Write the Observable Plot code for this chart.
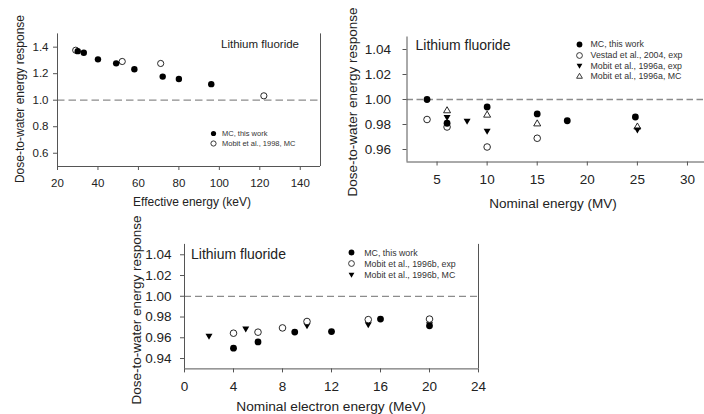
<!DOCTYPE html>
<html>
<head>
<meta charset="utf-8">
<script src="https://cdn.jsdelivr.net/npm/d3@7"></script>
<script src="https://cdn.jsdelivr.net/npm/@observablehq/plot@0.6"></script>
<style>
  html, body { margin: 0; padding: 0; background: #fff; }
  #root { position: relative; width: 704px; height: 414px; overflow: hidden; background: #fff;
          font-family: "Liberation Sans", Arial, sans-serif; color: #222; }
  .box { position: absolute; }
  .box svg { max-width: none !important; overflow: visible; background: transparent; }
  .lbl { position: absolute; white-space: nowrap; line-height: 1; }
  .leg { position: absolute; white-space: nowrap; line-height: 1; color: #333; display: flex; align-items: center; }
</style>
</head>
<body>
<div id="root"></div>
<script>
// ---------- Panel 1: photons (effective energy, keV) ----------
const p1McX = [30, 33, 40, 49, 58, 72, 80, 96];
const p1McY = [1.370, 1.358, 1.308, 1.278, 1.233, 1.178, 1.160, 1.121];
const p1MobitX = [29, 52, 71, 122];
const p1MobitY = [1.377, 1.292, 1.277, 1.033];
const p1XTicks = [20, 40, 60, 80, 100, 120, 140];
const p1YTicks = [0.6, 0.8, 1.0, 1.2, 1.4];
const p1XDomain = [20, 150];
const p1YDomain = [0.5, 1.5];

// ---------- Panel 2: photon beams (nominal energy, MV) ----------
const p2McX = [4, 6, 10, 15, 18, 24.8];
const p2McY = [1.000, 0.981, 0.994, 0.9885, 0.983, 0.986];
const p2VestadX = [4, 6, 10, 15];
const p2VestadY = [0.984, 0.978, 0.962, 0.969];
const p2MobitExpX = [6, 8, 10, 25];
const p2MobitExpY = [0.986, 0.983, 0.975, 0.976];
const p2MobitMcX = [6, 10, 15, 25];
const p2MobitMcY = [0.991, 0.9875, 0.9805, 0.978];
const p2XTicks = [5, 10, 15, 20, 25, 30];
const p2YTicks = [0.96, 0.98, 1.00, 1.02, 1.04];
const p2XDomain = [2, 32];
const p2YDomain = [0.95, 1.05];

// ---------- Panel 3: electron beams (MeV) ----------
const p3McX = [4, 6, 9, 12, 16, 20];
const p3McY = [0.950, 0.956, 0.9655, 0.966, 0.978, 0.9715];
const p3MobitExpX = [4, 6, 8, 10, 15, 20];
const p3MobitExpY = [0.9644, 0.9654, 0.9695, 0.9757, 0.9775, 0.978];
const p3MobitMcX = [2, 5, 10, 15, 20];
const p3MobitMcY = [0.962, 0.969, 0.972, 0.973, 0.973];
const p3XTicks = [0, 4, 8, 12, 16, 20, 24];
const p3YTicks = [0.94, 0.96, 0.98, 1.00, 1.02, 1.04];
const p3XDomain = [0, 24];
const p3YDomain = [0.93, 1.05];

const FONT = '"Liberation Sans", Arial, sans-serif';
const AXIS = "#555";
const DASH = "#8c8c8c";

// downward triangle symbol (flipped d3.symbolTriangle)
const triangleDown = {
  draw(context, size) {
    const c = {
      moveTo: (x, y) => context.moveTo(x, -y),
      lineTo: (x, y) => context.lineTo(x, -y),
      closePath: () => context.closePath()
    };
    d3.symbolTriangle.draw(c, size);
  }
};

const zip = (xs, ys) => xs.map((x, i) => ({x, y: ys[i]}));

function panel({width, height, mL, mR, mT, mB, xDomain, yDomain, xTicks, yTicks, yFmt, fontSize,
                xPad, yPad, dash, series}) {
  const marks = [
    Plot.ruleY([1], {stroke: DASH, strokeWidth: 1.3, strokeDasharray: dash}),
    Plot.ruleX(xDomain, {stroke: AXIS, strokeWidth: 1}),
    Plot.ruleY([yDomain[0]], {stroke: AXIS, strokeWidth: 1}),
    Plot.axisX({ticks: xTicks, tickSize: 4, tickPadding: xPad, label: null, stroke: AXIS,
                fontSize, fill: "#222"}),
    Plot.axisY({ticks: yTicks, tickSize: 4, tickPadding: yPad, label: null, stroke: AXIS,
                tickFormat: yFmt, fontSize, fill: "#222"}),
    ...series
  ];
  return Plot.plot({
    width, height,
    marginLeft: mL, marginRight: mR, marginTop: mT, marginBottom: mB,
    x: {domain: xDomain},
    y: {domain: yDomain},
    style: {fontFamily: FONT, fontSize: fontSize + "px", background: "transparent", color: "#222"},
    marks
  });
}

function filled(xs, ys, r) {
  return Plot.dot(zip(xs, ys), {x: "x", y: "y", r, fill: "#000", stroke: "none", symbol: "circle"});
}
function open(xs, ys, r) {
  return Plot.dot(zip(xs, ys), {x: "x", y: "y", r, fill: "#fff", stroke: "#111", strokeWidth: 0.9, symbol: "circle"});
}
function triDown(xs, ys, r) {
  return Plot.dot(zip(xs, ys), {x: "x", y: "y", r, fill: "#000", stroke: "none", symbol: triangleDown});
}
function triUp(xs, ys, r) {
  return Plot.dot(zip(xs, ys), {x: "x", y: "y", r, fill: "#fff", stroke: "#111", strokeWidth: 0.9, symbol: "triangle"});
}

const root = document.getElementById("root");
function place(node, left, top, w, h) {
  const d = document.createElement("div");
  d.className = "box";
  d.style.left = left + "px"; d.style.top = top + "px";
  d.style.width = w + "px"; d.style.height = h + "px";
  d.appendChild(node);
  root.appendChild(d);
}
function text(str, x, y, size, opts = {}) {
  const d = document.createElement("div");
  d.className = "lbl";
  d.textContent = str;
  d.style.fontSize = size + "px";
  d.style.left = x + "px"; d.style.top = y + "px";
  if (opts.rotate) d.style.transform = "translate(-50%,-50%) rotate(-90deg)";
  else if (opts.center) d.style.transform = "translate(-50%,-50%)";
  else d.style.transform = "translate(0,-50%)";
  root.appendChild(d);
}
function legendSymbol(kind, r) {
  const s = Math.ceil(r * 2 + 3);
  const c = s / 2;
  let shape;
  if (kind === "filled") shape = `<circle cx="${c}" cy="${c}" r="${r}" fill="#000"/>`;
  else if (kind === "open") shape = `<circle cx="${c}" cy="${c}" r="${r}" fill="#fff" stroke="#222" stroke-width="0.9"/>`;
  else if (kind === "down") shape = `<path d="M${c - r},${c - r * 0.6}L${c + r},${c - r * 0.6}L${c},${c + r * 1.1}Z" fill="#000"/>`;
  else shape = `<path d="M${c - r},${c + r * 0.6}L${c + r},${c + r * 0.6}L${c},${c - r * 1.1}Z" fill="#fff" stroke="#222" stroke-width="0.9"/>`;
  return `<svg width="${s}" height="${s}" style="display:block">${shape}</svg>`;
}
function legend(items, symX, textX, ys, size, r) {
  items.forEach(([kind, label], i) => {
    const s = Math.ceil(r * 2 + 3);
    const sym = document.createElement("div");
    sym.className = "box";
    sym.style.left = (symX - s / 2) + "px"; sym.style.top = (ys[i] - s / 2) + "px";
    sym.innerHTML = legendSymbol(kind, r);
    root.appendChild(sym);
    const t = document.createElement("div");
    t.className = "leg";
    t.textContent = label;
    t.style.fontSize = size + "px";
    t.style.left = textX + "px"; t.style.top = ys[i] + "px";
    t.style.transform = "translate(0,-50%)";
    root.appendChild(t);
  });
}

// ---- Panel 1 ----
place(panel({
  width: 330, height: 215, mL: 57, mR: 10, mT: 33.4, mB: 49,
  xDomain: p1XDomain, yDomain: p1YDomain, xTicks: p1XTicks, yTicks: p1YTicks,
  yFmt: d3.format(".1f"), fontSize: 11.5, xPad: 8, yPad: 5, dash: "7.5,4",
  series: [open(p1MobitX, p1MobitY, 3.1), filled(p1McX, p1McY, 3.2)]
}), 0, 0, 330, 215);
text("Dose-to-water energy response", 20, 99, 12, {rotate: true});
text("Effective energy (keV)", 192, 201.5, 12, {center: true});
text("Lithium fluoride", 221, 45, 11.5);
legend([["filled", "MC, this work"], ["open", "Mobit et al., 1998, MC"]], 213.5, 222, [133.7, 143.7], 7.5, 2.6);

// ---- Panel 2 ----
place(panel({
  width: 370, height: 215, mL: 66.5, mR: 3, mT: 36.5, mB: 53.5,
  xDomain: p2XDomain, yDomain: p2YDomain, xTicks: p2XTicks, yTicks: p2YTicks,
  yFmt: d3.format(".2f"), fontSize: 13.5, xPad: 8, yPad: 12, dash: "6.5,3.5",
  series: [
    open(p2VestadX, p2VestadY, 3.3),
    triUp(p2MobitMcX, p2MobitMcY, 2.6),
    triDown(p2MobitExpX, p2MobitExpY, 2.6),
    filled(p2McX, p2McY, 3.4)
  ]
}), 340, 0, 370, 215);
text("Dose-to-water energy response", 352.5, 102, 13.5, {rotate: true});
text("Nominal energy (MV)", 553, 203.5, 13.5, {center: true});
text("Lithium fluoride", 415.5, 45, 14);
legend([["filled", "MC, this work"], ["open", "Vestad et al., 2004, exp"],
        ["down", "Mobit et al., 1996a, exp"], ["up", "Mobit et al., 1996a, MC"]],
       579, 590.5, [44.3, 55, 65.7, 76.4], 8.8, 2.9);

// ---- Panel 3 ----
place(panel({
  width: 370, height: 200, mL: 64, mR: 12, mT: 33.9, mB: 41.6,
  xDomain: p3XDomain, yDomain: p3YDomain, xTicks: p3XTicks, yTicks: p3YTicks,
  yFmt: d3.format(".2f"), fontSize: 13.5, xPad: 9, yPad: 9, dash: "7,4",
  series: [
    triDown(p3MobitMcX, p3MobitMcY, 2.6),
    filled(p3McX, p3McY, 3.4),
    open(p3MobitExpX, p3MobitExpY, 3.3)
  ]
}), 120, 210, 370, 200);
text("Dose-to-water energy response", 137, 310, 13.5, {rotate: true});
text("Nominal electron energy (MeV)", 331, 407, 13.7, {center: true});
text("Lithium fluoride", 191, 254.3, 14);
legend([["filled", "MC, this work"], ["open", "Mobit et al., 1996b, exp"],
        ["down", "Mobit et al., 1996b, MC"]],
       351, 364.3, [252.7, 263.7, 274.7], 8.8, 2.9);
</script>
</body>
</html>
